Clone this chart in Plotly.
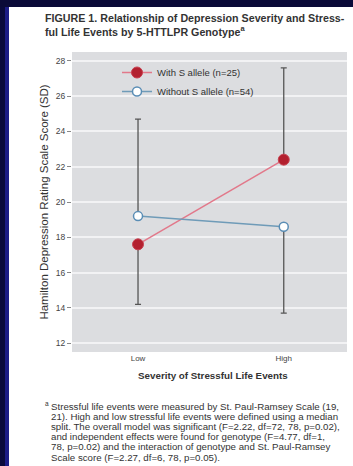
import plotly.graph_objects as go

# ---- data ----
categories = ["Low", "High"]
x_pos = [0, 1]
with_s = [17.6, 22.4]
with_s_up = [0.0, 5.2]
with_s_down = [3.4, 0.0]
without_s = [19.2, 18.6]
without_s_up = [5.5, 0.0]
without_s_down = [0.0, 4.9]
y_ticks = [12, 14, 16, 18, 20, 22, 24, 26, 28]

title_lines = [
    "FIGURE 1. Relationship of Depression Severity and Stress-",
    "ful Life Events by 5-HTTLPR Genotype<sup>a</sup>",
]
foot_lines = [
    "Stressful life events were measured by St. Paul-Ramsey Scale (19,",
    "21). High and low stressful life events were defined using a median",
    "split. The overall model was significant (F=2.22, df=72, 78, p=0.02),",
    "and independent effects were found for genotype (F=4.77, df=1,",
    "78, p=0.02) and the interaction of genotype and St. Paul-Ramsey",
    "Scale score (F=2.27, df=6, 78, p=0.05).",
]

W, H = 353, 466
L, R, T, B = 72, 6, 52, 114
PW, PH = W - L - R, H - T - B


def px(x):
    return (x - L) / PW


def py(y):
    return 1 - (y - T) / PH


FONT = "Liberation Sans, Arial, sans-serif"

fig = go.Figure()

fig.add_trace(go.Scatter(
    x=x_pos, y=with_s, mode="lines+markers", name="With S allele (n=25)",
    line=dict(color="#e2788a", width=1.5),
    marker=dict(size=11, color="#b3202f", line=dict(color="#c84050", width=1)),
    error_y=dict(type="data", symmetric=False, array=with_s_up, arrayminus=with_s_down,
                 color="#555555", thickness=1.3, width=3),
))
fig.add_trace(go.Scatter(
    x=x_pos, y=without_s, mode="lines+markers", name="Without S allele (n=54)",
    line=dict(color="#6f9bb8", width=1.5),
    marker=dict(size=9, color="white", line=dict(color="#5a8db5", width=1.5)),
    error_y=dict(type="data", symmetric=False, array=without_s_up, arrayminus=without_s_down,
                 color="#555555", thickness=1.3, width=3),
))

shapes = [
    dict(type="rect", xref="paper", yref="paper", x0=px(0), x1=px(5), y0=py(H), y1=py(0),
         fillcolor="#0a0a3c", line=dict(width=0), layer="above"),
    dict(type="rect", xref="paper", yref="paper", x0=px(5), x1=px(9), y0=py(H), y1=py(0),
         fillcolor="#1c1c86", line=dict(width=0), layer="above"),
    dict(type="rect", xref="paper", yref="paper", x0=px(0), x1=px(W), y0=py(7), y1=py(0),
         fillcolor="#0a0a38", line=dict(width=0), layer="above"),
]

annotations = [
    dict(text="<b>" + "<br>".join(title_lines) + "</b>", xref="paper", yref="paper",
         x=px(43), y=py(10), xanchor="left", yanchor="top", showarrow=False, align="left",
         font=dict(family=FONT, size=10.7, color="#333333")),
    dict(text="<b>Severity of Stressful Life Events</b>", xref="paper", yref="paper",
         x=px(213), y=py(375), xanchor="center", yanchor="middle", showarrow=False,
         font=dict(family=FONT, size=9.8, color="#333333")),
    dict(text="a", xref="paper", yref="paper", x=px(43), y=py(403), xanchor="left",
         yanchor="middle", showarrow=False, font=dict(family=FONT, size=6.5, color="#333333")),
]
for i, line in enumerate(foot_lines):
    annotations.append(dict(
        text=line, xref="paper", yref="paper", x=px(49), y=py(406 + 10.2 * i),
        xanchor="left", yanchor="middle", showarrow=False, align="left",
        font=dict(family=FONT, size=9.7, color="#333333")))

fig.update_layout(
    width=W, height=H,
    margin=dict(l=L, r=R, t=T, b=B, pad=0),
    paper_bgcolor="white", plot_bgcolor="#dcdde0",
    font=dict(family=FONT, color="#333333"),
    showlegend=True,
    legend=dict(x=px(117), y=py(58), xanchor="left", yanchor="top",
                bgcolor="rgba(0,0,0,0)", font=dict(family=FONT, size=9.5, color="#333333"),
                tracegroupgap=0),
    xaxis=dict(range=[-0.453, 1.434], tickvals=x_pos, ticktext=categories,
               showgrid=False, zeroline=False, showline=False,
               tickfont=dict(size=8, color="#444444"), ticks=""),
    yaxis=dict(range=[11.5, 28.5], tickvals=y_ticks, showgrid=True, gridcolor="#f2f2f4",
               gridwidth=1.5, zeroline=False, showline=False,
               ticks="outside", ticklen=4, tickcolor="#888888",
               tickfont=dict(size=8.5, color="#444444"),
               title=dict(text="Hamilton Depression Rating Scale Score (SD)",
                          font=dict(size=11.5, color="#333333"), standoff=4)),
    shapes=shapes, annotations=annotations,
)

fig.write_html("out.html")
